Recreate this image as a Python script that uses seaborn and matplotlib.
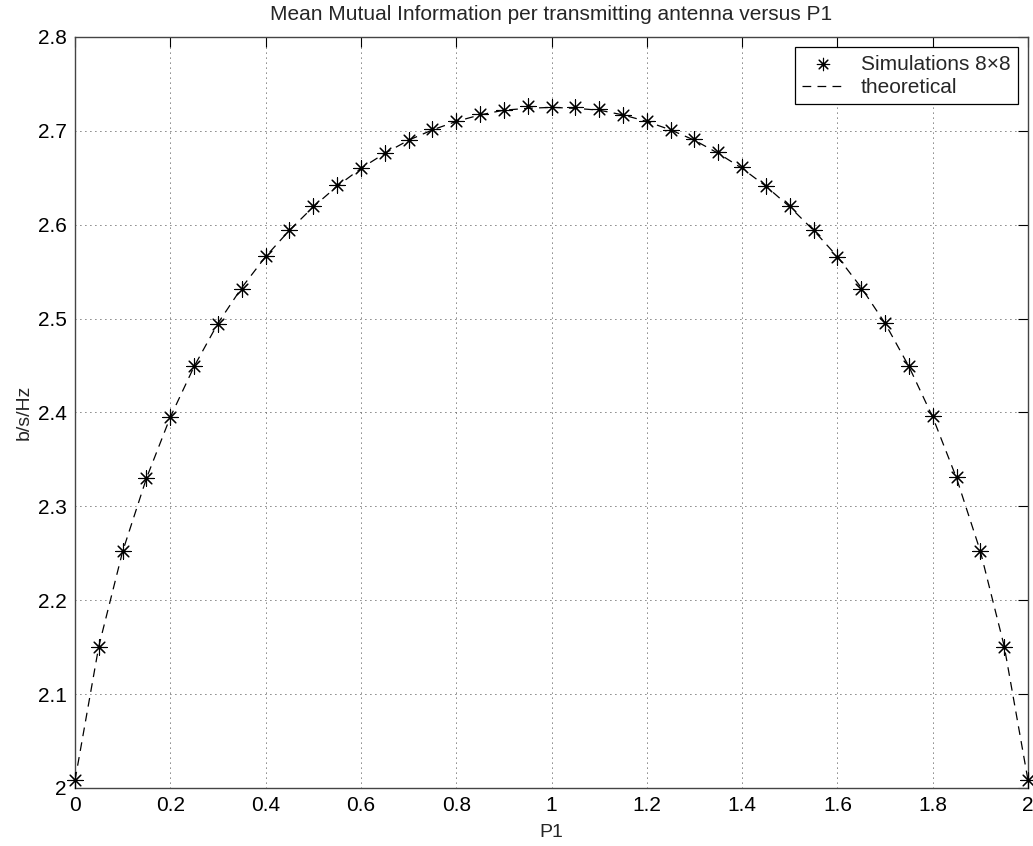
import matplotlib
matplotlib.use("Agg")
import matplotlib.pyplot as plt
import seaborn as sns
import numpy as np
import pandas as pd

# ---- data ----
p1 = [0.00, 0.05, 0.10, 0.15, 0.20, 0.25, 0.30, 0.35, 0.40, 0.45,
      0.50, 0.55, 0.60, 0.65, 0.70, 0.75, 0.80, 0.85, 0.90, 0.95,
      1.00, 1.05, 1.10, 1.15, 1.20, 1.25, 1.30, 1.35, 1.40, 1.45,
      1.50, 1.55, 1.60, 1.65, 1.70, 1.75, 1.80, 1.85, 1.90, 1.95, 2.00]
simulations = [2.008, 2.150, 2.252, 2.330, 2.395, 2.449, 2.494, 2.532, 2.567, 2.594,
               2.620, 2.642, 2.660, 2.676, 2.690, 2.702, 2.711, 2.718, 2.722, 2.726,
               2.725, 2.725, 2.723, 2.717, 2.710, 2.701, 2.691, 2.677, 2.661, 2.641,
               2.620, 2.594, 2.566, 2.532, 2.495, 2.449, 2.396, 2.331, 2.252, 2.150, 2.008]
theoretical = [2.008, 2.151, 2.252, 2.330, 2.395, 2.449, 2.495, 2.533, 2.566, 2.594,
               2.619, 2.641, 2.660, 2.676, 2.690, 2.701, 2.710, 2.717, 2.722, 2.724,
               2.725, 2.724, 2.722, 2.717, 2.710, 2.701, 2.690, 2.676, 2.660, 2.641,
               2.619, 2.594, 2.566, 2.533, 2.495, 2.449, 2.395, 2.330, 2.252, 2.151, 2.008]
x_ticks = [0, 0.2, 0.4, 0.6, 0.8, 1, 1.2, 1.4, 1.6, 1.8, 2]
x_ticklabels = ["0", "0.2", "0.4", "0.6", "0.8", "1", "1.2", "1.4", "1.6", "1.8", "2"]
y_ticks = [2.0, 2.1, 2.2, 2.3, 2.4, 2.5, 2.6, 2.7, 2.8]
y_ticklabels = ["2", "2.1", "2.2", "2.3", "2.4", "2.5", "2.6", "2.7", "2.8"]

sns.set_style("white")
plt.rcParams["font.family"] = ["Liberation Sans", "DejaVu Sans"]

df = pd.DataFrame({"P1": p1, "sim": simulations, "theo": theoretical})

fig = plt.figure(figsize=(10.33, 8.46), dpi=100)
ax = fig.add_axes([0.0726, 0.0686, 0.9226, 0.8877])

sns.scatterplot(data=df, x="P1", y="sim", ax=ax, marker=(8, 2, 0), s=120,
                linewidth=0.8, color="black", edgecolor="black",
                label="Simulations 8\u00d78", zorder=3, clip_on=False)
sns.lineplot(data=df, x="P1", y="theo", ax=ax, color="black", linewidth=0.9,
             dashes=False, label="theoretical", sort=False)
ax.lines[-1].set_dashes((7, 5))

ax.set_xlim(0, 2)
ax.set_ylim(2.0, 2.8)
ax.set_xticks(x_ticks)
ax.set_xticklabels(x_ticklabels)
ax.set_yticks(y_ticks)
ax.set_yticklabels(y_ticklabels)

ax.grid(True, color="black", linestyle=(0, (1, 5)), linewidth=0.6)
ax.tick_params(direction="in", length=7, width=0.8, top=True, right=True,
               labelsize=15, colors="black", pad=6)
for s in ax.spines.values():
    s.set_color("#444444")
    s.set_linewidth(1.0)
    s.set_visible(True)

ax.set_title("Mean Mutual Information per transmitting antenna versus P1",
             fontsize=15, pad=12)
ax.set_xlabel("P1", fontsize=14, labelpad=6)
ax.set_ylabel("b/s/Hz", fontsize=14, labelpad=4)

handles, labels = ax.get_legend_handles_labels()
leg = ax.legend(handles, labels, loc="upper right", fontsize=15, frameon=True,
                fancybox=False, edgecolor="black", framealpha=1,
                borderaxespad=0.5, handlelength=2.0, handletextpad=0.8,
                borderpad=0.35, labelspacing=0.2, scatterpoints=1)
leg.get_frame().set_linewidth(0.9)
leg.legend_handles[0].set_sizes([80])
leg.legend_handles[1].set_dashes((7, 5))

fig.savefig("out.png", dpi=100)
